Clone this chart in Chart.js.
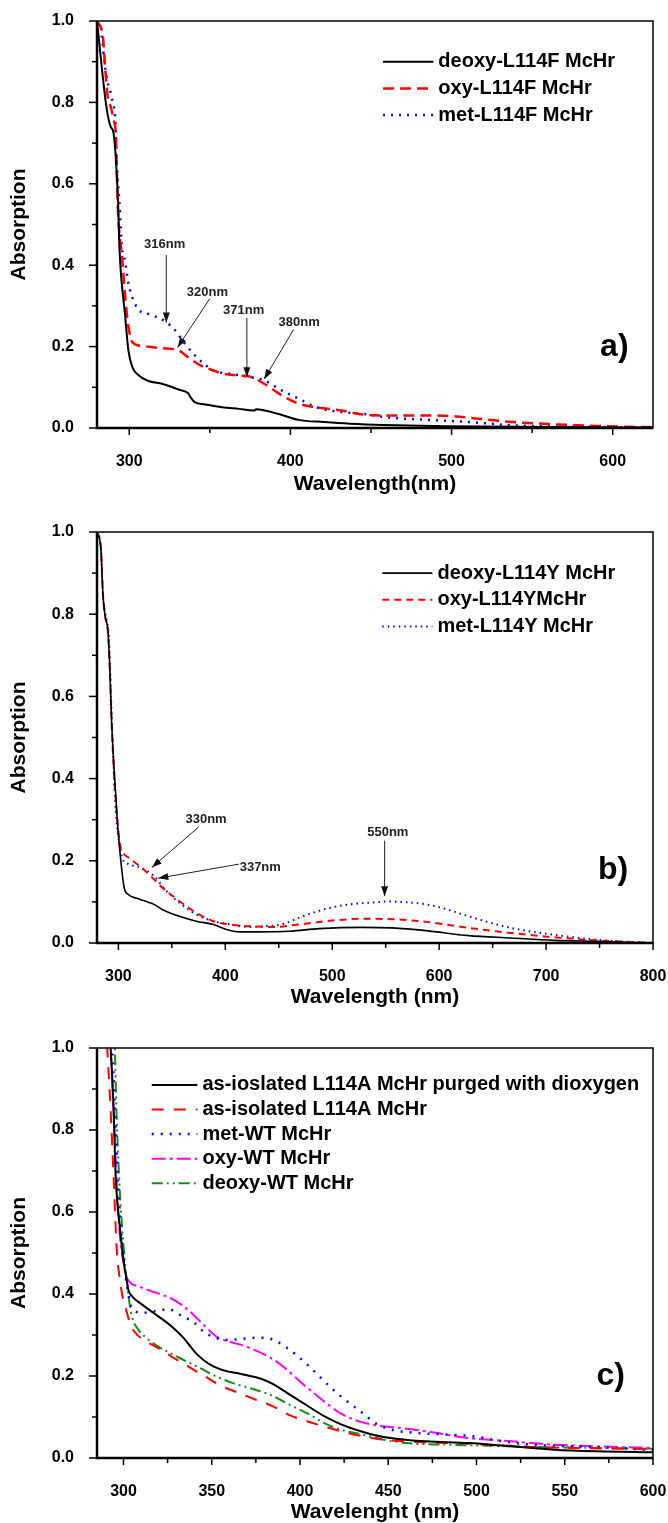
<!DOCTYPE html>
<html>
<head>
<meta charset="utf-8">
<script src="https://cdn.jsdelivr.net/npm/chart.js@4.4.1/dist/chart.umd.min.js"></script>
<style>
  body { margin: 0; background: #fff; width: 668px; height: 1523px; position: relative; overflow: hidden; }
  .painel { position: absolute; left: 0; width: 668px; }
</style>
</head>
<body>
<div class="painel" style="top:0;height:510px"><canvas id="grafA"></canvas></div>
<div class="painel" style="top:510px;height:515px"><canvas id="grafB"></canvas></div>
<div class="painel" style="top:1025px;height:498px"><canvas id="grafC"></canvas></div>
<script>
// ---------- dados ----------
// painel a) L114F
const ondaA_deoxy = [280, 285.8, 288.5, 290.3, 293, 294, 297.6, 299.5, 302, 306, 311.5, 320.7, 331, 336.6, 338, 340.6, 347, 357.7, 368, 377.5, 378.8, 384, 394.7, 405, 421, 437, 458, 497, 563, 625];
const absA_deoxy  = [1.0, 0.79, 0.74, 0.724, 0.56, 0.437, 0.27, 0.19, 0.149, 0.129, 0.116, 0.108, 0.094, 0.0855, 0.076, 0.0635, 0.058, 0.051, 0.047, 0.043, 0.046, 0.043, 0.032, 0.020, 0.0147, 0.0106, 0.0073, 0.004, 0.0024, 0.001];
const ondaA_oxy = [280, 283.7, 285, 286.9, 288.5, 290.3, 291.6, 293, 295.6, 297.7, 299.6, 302, 307.5, 320.7, 327, 331, 336.6, 344.6, 352.5, 357.8, 368, 376, 384, 394.8, 405.4, 416, 431.8, 445, 458, 484.8, 500.6, 516.5, 537.7, 564, 590.6, 625];
const absA_oxy  = [1.0, 0.96, 0.888, 0.806, 0.79, 0.757, 0.724, 0.535, 0.418, 0.312, 0.247, 0.21, 0.202, 0.196, 0.194, 0.19, 0.1735, 0.153, 0.141, 0.134, 0.129, 0.125, 0.108, 0.080, 0.0595, 0.051, 0.043, 0.033, 0.031, 0.031, 0.029, 0.023, 0.0147, 0.009, 0.005, 0.0016];
const ondaA_met = [280, 282.4, 284.5, 286.3, 289, 291.6, 292.4, 293.8, 295.6, 297, 299.6, 302, 306, 312.8, 322, 328.7, 334, 342, 352.5, 363, 373.7, 384, 394.8, 405.4, 416, 432, 445, 458, 484.8, 511, 537.7, 564, 625];
const absA_met  = [1.0, 0.982, 0.904, 0.855, 0.814, 0.74, 0.643, 0.56, 0.437, 0.418, 0.353, 0.32, 0.29, 0.279, 0.263, 0.239, 0.21, 0.1735, 0.141, 0.133, 0.126, 0.1165, 0.092, 0.0717, 0.051, 0.039, 0.035, 0.027, 0.020, 0.0147, 0.0065, 0.004, 0.001];

// painel b) L114Y
const ondaB_deoxy = [280, 283.6, 285.6, 287.5, 290.3, 291.9, 293.5, 295.5, 297.5, 299.5, 302.3, 305.4, 309.4, 317.4, 325, 333.3, 341, 357, 373, 389, 401, 412.8, 428.7, 460.5, 488, 528, 556, 587.8, 627.5, 667, 707, 747, 800];
const absB_deoxy  = [1.0, 0.961, 0.846, 0.797, 0.756, 0.673, 0.55, 0.445, 0.363, 0.28, 0.2, 0.135, 0.118, 0.1086, 0.102, 0.094, 0.0816, 0.065, 0.053, 0.045, 0.0327, 0.027, 0.027, 0.0286, 0.035, 0.038, 0.0367, 0.030, 0.018, 0.0122, 0.0065, 0.004, 0.0];
const ondaB_oxy = [280, 283.6, 285.6, 287.5, 290.3, 291.9, 293.5, 295.5, 298.3, 301.5, 305.4, 309.4, 317.4, 325, 333.3, 341, 357, 373, 389, 405, 420.8, 444.6, 468.5, 500, 528, 556, 587.8, 627.5, 667, 707, 747, 800];
const absB_oxy  = [1.0, 0.961, 0.846, 0.797, 0.756, 0.673, 0.55, 0.43, 0.322, 0.24, 0.216, 0.208, 0.192, 0.1755, 0.155, 0.135, 0.102, 0.073, 0.053, 0.045, 0.041, 0.039, 0.045, 0.0547, 0.0588, 0.058, 0.0514, 0.0367, 0.0245, 0.0139, 0.0065, 0.0];
const ondaB_met = [280, 283.6, 285.6, 288, 290.8, 292.2, 293.8, 295.5, 297.5, 300, 303.5, 309.4, 321, 333.3, 345, 357, 373, 389, 405, 420.8, 436.7, 452.6, 468.5, 492, 516, 540, 552, 564, 587.8, 607.6, 627.5, 667, 707, 747, 800];
const absB_met  = [1.0, 0.961, 0.846, 0.797, 0.756, 0.673, 0.55, 0.43, 0.322, 0.257, 0.208, 0.192, 0.184, 0.163, 0.1265, 0.098, 0.069, 0.053, 0.045, 0.039, 0.041, 0.045, 0.061, 0.0816, 0.094, 0.099, 0.101, 0.1, 0.094, 0.0816, 0.065, 0.0367, 0.0204, 0.008, 0.0];

// painel c) L114A e WT
const ondaC_purgado = [291.5, 292.7, 294.4, 295.6, 298, 300.4, 301.6, 302.8, 305.2, 310, 317.3, 327, 334, 337.8, 341.4, 348.6, 355.8, 365.5, 375, 378.7, 384.8, 394.4, 404, 413.7, 423.3, 435.4, 447.4, 459.5, 471.5, 495.6, 519.7, 543.8, 567.9, 600];
const absC_purgado  = [1.05, 1.0, 0.849, 0.686, 0.56, 0.47, 0.44, 0.41, 0.393, 0.376, 0.353, 0.322, 0.293, 0.273, 0.254, 0.229, 0.215, 0.206, 0.197, 0.192, 0.18, 0.154, 0.128, 0.102, 0.082, 0.064, 0.051, 0.0447, 0.0407, 0.0366, 0.0285, 0.0203, 0.0163, 0.0138];
const ondaC_isolado = [290, 290.8, 292.7, 294.4, 296.3, 297.5, 299.2, 301.6, 304, 307.7, 312.5, 319.7, 327, 336.6, 346.2, 355.8, 365.5, 375, 384.8, 394.4, 404, 413.7, 423.3, 435.4, 447.4, 459.5, 471.5, 495.6, 507.7, 531.7, 555.8, 600];
const absC_isolado  = [1.06, 1.0, 0.849, 0.686, 0.5, 0.45, 0.4, 0.36, 0.325, 0.301, 0.285, 0.268, 0.248, 0.2236, 0.199, 0.175, 0.1585, 0.142, 0.126, 0.104, 0.0895, 0.077, 0.065, 0.053, 0.0447, 0.0407, 0.038, 0.035, 0.0325, 0.027, 0.0244, 0.022];
const ondaC_metWT = [292.5, 293.5, 295.2, 296.8, 298.5, 300.5, 302, 303.5, 304.8, 311, 319, 325.6, 332, 340, 345.5, 353, 359.6, 366, 374, 380.4, 387, 394.5, 401, 408, 414, 420, 428, 435.4, 442.6, 452, 466.7, 483.5, 498, 514.9, 531.7, 555.8, 580, 600];
const absC_metWT  = [1.03, 1.0, 0.849, 0.686, 0.56, 0.47, 0.42, 0.385, 0.365, 0.354, 0.359, 0.363, 0.349, 0.33, 0.308, 0.292, 0.288, 0.29, 0.293, 0.293, 0.284, 0.263, 0.24, 0.212, 0.186, 0.162, 0.134, 0.11, 0.085, 0.069, 0.061, 0.057, 0.053, 0.0407, 0.0325, 0.0285, 0.0244, 0.0187];
const ondaC_oxyWT = [292, 292.7, 294.4, 296, 298, 300.4, 301.6, 304, 307.7, 315, 322, 329.3, 334, 339, 346, 353.4, 360.7, 368, 375, 382.3, 389.6, 396.8, 404, 413.7, 423.3, 433, 442.6, 457, 471.5, 495.6, 519.7, 543.8, 567.9, 600];
const absC_oxyWT  = [1.05, 1.0, 0.849, 0.686, 0.54, 0.467, 0.443, 0.427, 0.42, 0.408, 0.398, 0.384, 0.37, 0.352, 0.322, 0.294, 0.283, 0.274, 0.262, 0.247, 0.226, 0.199, 0.172, 0.138, 0.108, 0.09, 0.08, 0.073, 0.065, 0.0488, 0.0407, 0.0325, 0.0285, 0.0244];
const ondaC_deoxyWT = [294.5, 295.1, 296, 297.5, 299.2, 301, 301.9, 303, 304.8, 308.6, 313.3, 320, 328.5, 336, 343.5, 353, 362.4, 371.9, 383.2, 394.5, 405.9, 413.7, 423.3, 435.4, 447.4, 459.5, 483.5, 507.7, 531.7, 567.9, 600];
const absC_deoxyWT  = [1.05, 1.0, 0.849, 0.686, 0.563, 0.47, 0.43, 0.39, 0.345, 0.312, 0.292, 0.271, 0.251, 0.235, 0.219, 0.198, 0.182, 0.17, 0.154, 0.129, 0.105, 0.085, 0.069, 0.057, 0.0447, 0.0366, 0.0325, 0.030, 0.027, 0.0244, 0.0228];

// marcas dos eixos
const ticksY   = [0, 0.1, 0.2, 0.3, 0.4, 0.5, 0.6, 0.7, 0.8, 0.9, 1.0];
const rotulosY = [0, 0.2, 0.4, 0.6, 0.8, 1.0];
const ticksXA   = [300, 350, 400, 450, 500, 550, 600];
const rotulosXA = [300, 400, 500, 600];
const ticksXB   = [300, 350, 400, 450, 500, 550, 600, 650, 700, 750, 800];
const rotulosXB = [300, 400, 500, 600, 700, 800];
const ticksXC   = [300, 325, 350, 375, 400, 425, 450, 475, 500, 525, 550, 575, 600];
const rotulosXC = [300, 350, 400, 450, 500, 550, 600];

// ---------- aparência ----------
const FAMILIA = "'Liberation Sans', Arial, sans-serif";
const pares = (xs, ys) => xs.map((x, i) => ({ x: x, y: ys[i] }));
const tem = (lista, v) => lista.some(r => Math.abs(r - v) < 1e-6);

// marcas para fora e moldura do gráfico
const marcasEixos = {
  id: 'marcasEixos',
  afterDraw(chart, args, opts) {
    const { ctx, chartArea: a, scales } = chart;
    ctx.save();
    ctx.strokeStyle = '#000';
    ctx.lineWidth = 1.5;
    scales.x.ticks.forEach(t => {
      const px = scales.x.getPixelForValue(t.value);
      const comp = tem(opts.xMaior, t.value) ? 7 : 5;
      ctx.beginPath(); ctx.moveTo(px, a.bottom); ctx.lineTo(px, a.bottom + comp); ctx.stroke();
    });
    scales.y.ticks.forEach(t => {
      const py = scales.y.getPixelForValue(t.value);
      const comp = tem(rotulosY, t.value) ? 8 : 5;
      ctx.beginPath(); ctx.moveTo(a.left, py); ctx.lineTo(a.left - comp, py); ctx.stroke();
    });
    ctx.lineWidth = 1.5;
    ctx.strokeRect(a.left, a.top, a.width, a.height);
    ctx.lineWidth = 2.5;
    ctx.beginPath(); ctx.moveTo(a.left, a.top); ctx.lineTo(a.left, a.bottom); ctx.lineTo(a.right, a.bottom); ctx.stroke();
    ctx.restore();
  }
};

// setas com rótulos e letra do painel
const anotacoes = {
  id: 'anotacoes',
  afterDatasetsDraw(chart, args, opts) {
    const { ctx, scales: { x, y } } = chart;
    ctx.save();
    (opts.setas || []).forEach(s => {
      const x1 = x.getPixelForValue(s.de[0]), y1 = y.getPixelForValue(s.de[1]);
      const x2 = x.getPixelForValue(s.para[0]), y2 = y.getPixelForValue(s.para[1]);
      ctx.strokeStyle = '#222'; ctx.fillStyle = '#111'; ctx.lineWidth = 1;
      ctx.beginPath(); ctx.moveTo(x1, y1); ctx.lineTo(x2, y2); ctx.stroke();
      const ang = Math.atan2(y2 - y1, x2 - x1);
      ctx.beginPath();
      ctx.moveTo(x2, y2);
      ctx.lineTo(x2 - 10 * Math.cos(ang) + 3.5 * Math.sin(ang), y2 - 10 * Math.sin(ang) - 3.5 * Math.cos(ang));
      ctx.lineTo(x2 - 10 * Math.cos(ang) - 3.5 * Math.sin(ang), y2 - 10 * Math.sin(ang) + 3.5 * Math.cos(ang));
      ctx.closePath(); ctx.fill();
      ctx.font = 'bold 13px ' + FAMILIA;
      ctx.fillStyle = '#222'; ctx.textAlign = 'center'; ctx.textBaseline = 'middle';
      ctx.fillText(s.texto, x.getPixelForValue(s.pos[0]), y.getPixelForValue(s.pos[1]));
    });
    if (opts.letra) {
      ctx.font = 'bold 32px ' + FAMILIA;
      ctx.fillStyle = '#000'; ctx.textAlign = 'center'; ctx.textBaseline = 'middle';
      ctx.fillText(opts.letra.texto, x.getPixelForValue(opts.letra.pos[0]), y.getPixelForValue(opts.letra.pos[1]));
    }
    ctx.restore();
  }
};

// legenda desenhada dentro da área do gráfico
const legendaPropria = {
  id: 'legendaPropria',
  afterDatasetsDraw(chart, args, opts) {
    const { ctx, scales: { x, y } } = chart;
    const xi = x.getPixelForValue(opts.x0), xf = x.getPixelForValue(opts.x1);
    const y0 = y.getPixelForValue(opts.y0);
    ctx.save();
    ctx.font = 'bold ' + opts.tamanho + 'px ' + FAMILIA;
    ctx.textBaseline = 'middle'; ctx.textAlign = 'left';
    chart.data.datasets.forEach((ds, i) => {
      const py = y0 + i * opts.passo;
      ctx.strokeStyle = ds.borderColor; ctx.lineWidth = ds.borderWidth;
      ctx.setLineDash(ds.borderDash || []);
      ctx.beginPath(); ctx.moveTo(xi, py); ctx.lineTo(xf, py); ctx.stroke();
      ctx.setLineDash([]);
      ctx.fillStyle = '#000';
      ctx.fillText(ds.label, xf + 5, py);
    });
    ctx.restore();
  }
};

function montarGrafico(id, cfg) {
  const ctx = document.getElementById(id).getContext('2d');
  return new Chart(ctx, {
    type: 'line',
    data: {
      datasets: cfg.series.map(s => ({
        label: s.nome,
        data: pares(s.x, s.y),
        borderColor: s.cor,
        borderWidth: s.largura,
        borderDash: s.traco,
        pointRadius: 0,
        fill: false,
        cubicInterpolationMode: 'monotone'
      }))
    },
    options: {
      responsive: true,
      maintainAspectRatio: false,
      animation: false,
      layout: { padding: { top: cfg.topo, right: 15, left: 0, bottom: 0 } },
      scales: {
        x: {
          type: 'linear', min: cfg.xMin, max: cfg.xMax,
          afterBuildTicks: s => { s.ticks = cfg.ticksX.map(v => ({ value: v })); },
          afterFit: s => { s.height = cfg.alturaX; s.paddingLeft = 0; s.paddingRight = 0; },
          grid: { display: false }, border: { display: false },
          ticks: {
            autoSkip: false, maxRotation: 0, padding: 16, color: '#000',
            font: { family: FAMILIA, size: 16, weight: 'bold' },
            callback: v => tem(cfg.rotulosX, v) ? String(v) : ''
          },
          title: {
            display: true, text: cfg.tituloX, color: '#000',
            font: { family: FAMILIA, size: 21, weight: 'bold', lineHeight: 1 },
            padding: { top: 0, bottom: cfg.margemTitulo }
          }
        },
        y: {
          min: 0, max: 1,
          afterBuildTicks: s => { s.ticks = ticksY.map(v => ({ value: v })); },
          afterFit: s => { s.width = 97; s.paddingTop = 0; s.paddingBottom = 0; },
          grid: { display: false }, border: { display: false },
          ticks: {
            autoSkip: false, padding: 15, color: '#000',
            font: { family: FAMILIA, size: 16, weight: 'bold' },
            callback: v => tem(rotulosY, v) ? v.toFixed(1) : ''
          },
          title: {
            display: true, text: 'Absorption', color: '#000',
            font: { family: FAMILIA, size: 21, weight: 'bold', lineHeight: 1 },
            padding: { top: 9, bottom: 0 }
          }
        }
      },
      plugins: {
        legend: { display: false },
        tooltip: { enabled: false },
        marcasEixos: { xMaior: cfg.rotulosX },
        anotacoes: { setas: cfg.setas, letra: cfg.letra },
        legendaPropria: cfg.legenda
      }
    },
    plugins: [marcasEixos, anotacoes, legendaPropria]
  });
}

montarGrafico('grafA', {
  topo: 21, alturaX: 82, margemTitulo: 15,
  xMin: 280, xMax: 625, ticksX: ticksXA, rotulosX: rotulosXA,
  tituloX: 'Wavelength(nm)',
  series: [
    { nome: 'deoxy-L114F McHr', x: ondaA_deoxy, y: absA_deoxy, cor: '#000000', largura: 2, traco: [] },
    { nome: 'oxy-L114F McHr', x: ondaA_oxy, y: absA_oxy, cor: '#ff0000', largura: 2.5, traco: [11, 6] },
    { nome: 'met-L114F McHr', x: ondaA_met, y: absA_met, cor: '#0000ff', largura: 2.5, traco: [2, 6] }
  ],
  legenda: { x0: 457.5, x1: 488.7, y0: 0.9, passo: 26.7, tamanho: 20 },
  setas: [
    { texto: '316nm', pos: [322, 0.45], de: [323, 0.425], para: [323, 0.259] },
    { texto: '320nm', pos: [348.5, 0.333], de: [350, 0.318], para: [330, 0.198] },
    { texto: '371nm', pos: [371, 0.288], de: [373, 0.271], para: [373, 0.125] },
    { texto: '380nm', pos: [405.4, 0.259], de: [402, 0.242], para: [383.7, 0.12] }
  ],
  letra: { texto: 'a)', pos: [601, 0.198] }
});

montarGrafico('grafB', {
  topo: 22, alturaX: 82, margemTitulo: 17,
  xMin: 280, xMax: 800, ticksX: ticksXB, rotulosX: rotulosXB,
  tituloX: 'Wavelength (nm)',
  series: [
    { nome: 'deoxy-L114Y McHr', x: ondaB_deoxy, y: absB_deoxy, cor: '#000000', largura: 1.6, traco: [] },
    { nome: 'oxy-L114YMcHr', x: ondaB_oxy, y: absB_oxy, cor: '#ff0000', largura: 2, traco: [7, 5] },
    { nome: 'met-L114Y McHr', x: ondaB_met, y: absB_met, cor: '#0000ff', largura: 2, traco: [1.5, 4] }
  ],
  legenda: { x0: 546.8, x1: 593.7, y0: 0.9, passo: 26.7, tamanho: 20 },
  setas: [
    { texto: '330nm', pos: [382, 0.3], de: [375, 0.282], para: [331.3, 0.184] },
    { texto: '337nm', pos: [432.7, 0.185], de: [412.8, 0.192], para: [337.3, 0.1576] },
    { texto: '550nm', pos: [552, 0.269], de: [549, 0.249], para: [549, 0.114] }
  ],
  letra: { texto: 'b)', pos: [762.7, 0.176] }
});

montarGrafico('grafC', {
  topo: 23, alturaX: 65, margemTitulo: 0,
  xMin: 285, xMax: 600, ticksX: ticksXC, rotulosX: rotulosXC,
  tituloX: 'Wavelenght (nm)',
  series: [
    { nome: 'as-ioslated L114A McHr purged with dioxygen', x: ondaC_purgado, y: absC_purgado, cor: '#000000', largura: 2, traco: [] },
    { nome: 'as-isolated L114A McHr', x: ondaC_isolado, y: absC_isolado, cor: '#ff0000', largura: 2, traco: [12, 10] },
    { nome: 'met-WT McHr', x: ondaC_metWT, y: absC_metWT, cor: '#0000ff', largura: 2.5, traco: [2, 7] },
    { nome: 'oxy-WT McHr', x: ondaC_oxyWT, y: absC_oxyWT, cor: '#ff00ff', largura: 2, traco: [14, 4, 3, 4] },
    { nome: 'deoxy-WT McHr', x: ondaC_deoxyWT, y: absC_deoxyWT, cor: '#1a8a1a', largura: 2, traco: [11, 4, 2, 4, 2, 4] }
  ],
  legenda: { x0: 316, x1: 341.9, y0: 0.91, passo: 24.6, tamanho: 20 },
  setas: [],
  letra: { texto: 'c)', pos: [576, 0.199] }
});
</script>
</body>
</html>
